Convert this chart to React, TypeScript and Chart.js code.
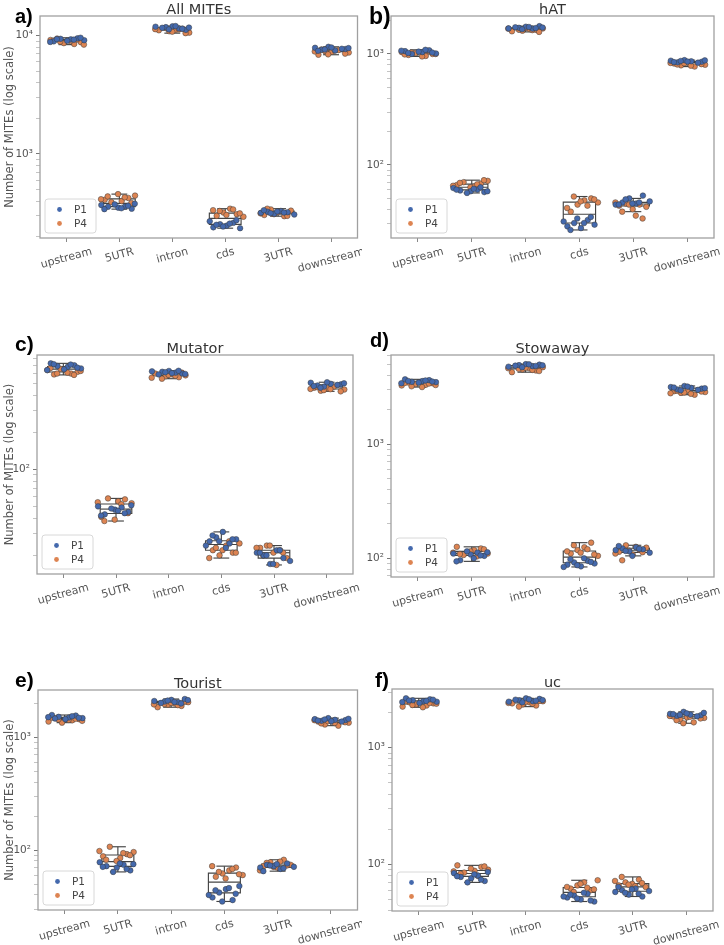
import React, { useEffect, useRef } from "react";
import { Chart, registerables } from "chart.js";

Chart.register(...registerables);

// ---------------- data ----------------
const categories = ["upstream", "5UTR", "intron", "cds", "3UTR", "downstream"];
const seriesLabels = ["P1", "P4"];
const seriesColors = ["#4469ad", "#dd8452"];
const yAxisTitle = "Number of MITEs (log scale)";

const panelTitles = ["All MITEs", "hAT", "Mutator", "Stowaway", "Tourist", "uc"];
const panelLetters = ["a)", "b)", "c)", "d)", "e)", "f)"];
const panelYMin = [195, 22, 14.1, 68.6, 29.4, 39.8];
const panelYMax = [14660, 2198, 849, 6010, 2630, 3186];

// a) All MITEs
const allP1 = [
  [9300, 9500, 9150, 8950, 9400, 9050, 9250, 9600, 8850, 9350],
  [352, 360, 345, 370, 358, 375, 348, 365, 380, 342],
  [11800, 12000, 11500, 11200, 11900, 11650, 11300, 12050, 11450, 11700],
  [240, 255, 248, 262, 236, 270, 252, 244, 258, 276],
  [318, 325, 312, 330, 322, 308, 335, 316, 327, 320],
  [7700, 7900, 7600, 8050, 7500, 7750, 7850, 7450, 7650, 7950],
];
const allP4 = [
  [8500, 8800, 9200, 9450, 8650, 9000, 9300, 8400, 9100, 8900],
  [400, 425, 445, 410, 392, 458, 430, 385, 415, 438],
  [10900, 11200, 11450, 10600, 11100, 11600, 10800, 11300, 10500, 11350],
  [300, 320, 345, 310, 295, 335, 330, 305, 340, 315],
  [305, 340, 322, 298, 332, 315, 345, 310, 328, 300],
  [7200, 6900, 7400, 7300, 7550, 7050, 7350, 7650, 6950, 7500],
];

// b) hAT
const hatP1 = [
  [1040, 1080, 1010, 1060, 1000, 1050, 1090, 1030, 1070, 1020],
  [58, 60, 57, 62, 59, 56, 61, 63, 58, 60],
  [1720, 1760, 1690, 1780, 1700, 1740, 1670, 1750, 1710, 1730],
  [28, 30, 27, 32, 29, 31, 26, 33, 30, 34],
  [44, 46, 50, 45, 53, 47, 44, 49, 45, 46],
  [850, 870, 840, 880, 860, 835, 875, 845, 865, 855],
];
const hatP4 = [
  [960, 1000, 1040, 980, 1020, 950, 1060, 1000, 990, 1030],
  [64, 68, 72, 66, 70, 63, 67, 73, 65, 69],
  [1620, 1680, 1650, 1700, 1600, 1660, 1720, 1640, 1580, 1690],
  [38, 44, 48, 50, 46, 41, 52, 47, 43, 49],
  [43, 45, 40, 44, 42, 46, 38, 44, 35, 33],
  [800, 820, 790, 840, 770, 810, 830, 805, 825, 785],
];

// c) Mutator
const mutatorP1 = [
  [680, 700, 660, 726, 690, 650, 710, 670, 640, 715],
  [47, 49, 45, 50, 43, 48, 46, 44, 51, 42],
  [620, 630, 610, 600, 625, 590, 615, 605, 632, 595],
  [26, 28, 31, 25, 27, 24, 29, 26, 23, 27],
  [21, 20, 17, 22, 19, 18, 21, 20, 17, 22],
  [490, 505, 480, 470, 495, 485, 500, 475, 460, 510],
];
const mutatorP4 = [
  [600, 620, 640, 590, 655, 610, 585, 630, 665, 600],
  [55, 57, 53, 41, 58, 39, 52, 44, 54, 38],
  [570, 590, 560, 580, 600, 545, 585, 575, 610, 555],
  [22, 20, 24, 21, 25, 19, 23, 22, 26, 21],
  [23, 24, 21, 22, 19, 23, 20, 24, 16.7, 21],
  [445, 460, 435, 455, 470, 430, 450, 465, 440, 448],
];

// d) Stowaway
const stowawayP1 = [
  [3550, 3620, 3480, 3680, 3500, 3450, 3600, 3520, 3400, 3560],
  [108, 112, 105, 110, 96, 115, 100, 106, 113, 94],
  [4900, 5000, 4800, 4950, 4750, 4850, 4700, 4980, 4820, 4880],
  [88, 92, 85, 95, 90, 84, 98, 87, 100, 93],
  [118, 122, 115, 125, 120, 112, 128, 116, 105, 121],
  [3050, 3150, 3000, 3220, 3100, 2980, 3080, 3120, 2950, 3180],
];
const stowawayP4 = [
  [3300, 3400, 3250, 3450, 3350, 3150, 3380, 3280, 3420, 3200],
  [118, 122, 110, 126, 107, 115, 104, 120, 112, 109],
  [4500, 4600, 4400, 4700, 4250, 4550, 4650, 4450, 4350, 4600],
  [110, 118, 125, 137, 105, 115, 130, 112, 120, 108],
  [114, 130, 108, 119, 124, 110, 96, 117, 126, 113],
  [2850, 2900, 2800, 2950, 2700, 2880, 2780, 2920, 2820, 2750],
];

// e) Tourist
const touristP1 = [
  [1500, 1560, 1480, 1578, 1520, 1450, 1540, 1490, 1510, 1470],
  [70, 74, 66, 78, 72, 64, 76, 68, 75, 71],
  [2080, 2150, 2050, 2188, 2100, 2020, 2120, 2060, 2000, 2140],
  [38, 42, 45, 36, 48, 40, 44, 35, 46, 41],
  [70, 74, 72, 68, 76, 71, 65, 73, 75, 69],
  [1420, 1450, 1400, 1480, 1430, 1380, 1460, 1410, 1440, 1390],
];
const touristP4 = [
  [1420, 1450, 1380, 1480, 1350, 1430, 1460, 1400, 1500, 1440],
  [85, 92, 96, 88, 107, 80, 94, 90, 98, 82],
  [1950, 2000, 1900, 2050, 1850, 1980, 2020, 1930, 2080, 1960],
  [58, 62, 66, 70, 60, 72, 64, 56, 68, 61],
  [72, 78, 70, 82, 74, 66, 77, 71, 79, 73],
  [1350, 1380, 1300, 1400, 1270, 1360, 1420, 1330, 1390, 1340],
];

// f) uc
const ucP1 = [
  [2500, 2600, 2480, 2650, 2550, 2420, 2520, 2580, 2460, 2540],
  [76, 80, 72, 84, 78, 70, 82, 74, 86, 79],
  [2550, 2650, 2500, 2620, 2480, 2580, 2450, 2600, 2530, 2560],
  [52, 54, 50, 56, 48, 53, 55, 51, 57, 49],
  [58, 60, 55, 62, 53, 59, 64, 57, 61, 56],
  [1900, 1950, 1880, 2030, 1920, 1860, 1990, 1940, 1910, 1970],
];
const ucP4 = [
  [2300, 2400, 2250, 2450, 2350, 2220, 2420, 2380, 2500, 2320],
  [88, 95, 90, 98, 85, 92, 80, 96, 87, 83],
  [2350, 2450, 2300, 2500, 2400, 2250, 2480, 2380, 2520, 2420],
  [62, 66, 70, 60, 73, 64, 58, 68, 63, 61],
  [66, 70, 68, 74, 64, 72, 78, 67, 65, 69],
  [1800, 1850, 1750, 1820, 1650, 1780, 1870, 1720, 1620, 1840],
];

const panelP1 = [allP1, hatP1, mutatorP1, stowawayP1, touristP1, ucP1];
const panelP4 = [allP4, hatP4, mutatorP4, stowawayP4, touristP4, ucP4];

// ---------------- layout ----------------
type Rect = { l: number; t: number; r: number; b: number };
const canvasRects: Rect[] = [
  { l: 0, t: 0, r: 362, b: 300 },
  { l: 362, t: 0, r: 724, b: 300 },
  { l: 0, t: 300, r: 362, b: 620 },
  { l: 362, t: 300, r: 724, b: 620 },
  { l: 0, t: 620, r: 362, b: 945 },
  { l: 362, t: 620, r: 724, b: 945 },
];
const areaRects: Rect[] = [
  { l: 40, t: 16, r: 360, b: 238 },
  { l: 391, t: 16, r: 714, b: 238 },
  { l: 37, t: 355, r: 353, b: 574 },
  { l: 391, t: 355, r: 714, b: 577 },
  { l: 38, t: 690, r: 359, b: 910 },
  { l: 392, t: 689, r: 713, b: 911 },
];
const letterPos = [
  { x: 15, y: 23, size: 20 },
  { x: 369, y: 24, size: 23 },
  { x: 15, y: 351, size: 21 },
  { x: 370, y: 347, size: 20 },
  { x: 15, y: 687, size: 21 },
  { x: 375, y: 687, size: 21 },
];

const FONT = '"DejaVu Sans", sans-serif';
const SUP: Record<string, string> = { "0": "⁰", "1": "¹", "2": "²", "3": "³", "4": "⁴", "5": "⁵", "6": "⁶", "-": "⁻" };

function logLabel(v: number): string {
  const e = Math.log10(v);
  if (Math.abs(e - Math.round(e)) > 1e-9) return "";
  return "10" + String(Math.round(e)).split("").map((ch) => SUP[ch] || ch).join("");
}

function buildLogTicks(min: number, max: number) {
  const out: { value: number; major: boolean }[] = [];
  for (let d = Math.floor(Math.log10(min)); d <= Math.ceil(Math.log10(max)); d++) {
    for (let k = 1; k <= 9; k++) {
      const v = k * Math.pow(10, d);
      if (v >= min && v <= max) out.push({ value: v, major: k === 1 });
    }
  }
  return out;
}

function quantile(sorted: number[], q: number) {
  const pos = (sorted.length - 1) * q;
  const lo = Math.floor(pos);
  const hi = Math.ceil(pos);
  return sorted[lo] + (sorted[hi] - sorted[lo]) * (pos - lo);
}

function jitter(s: number, i: number, c: number) {
  const u = ((i * 10 + s * 5 + c * 3 + 1) * 0.6180339887) % 1;
  return (u - 0.5) * 0.7;
}

function Panel({ idx }: { idx: number }) {
  const ref = useRef<HTMLCanvasElement>(null);
  const cv = canvasRects[idx];
  const ar = areaRects[idx];
  const w = cv.r - cv.l;
  const h = cv.b - cv.t;

  useEffect(() => {
    if (!ref.current) return;
    const p1 = panelP1[idx];
    const p4 = panelP4[idx];
    const yMin = panelYMin[idx];
    const yMax = panelYMax[idx];
    const series = [p1, p4];

    const datasets = series.map((vals, s) => ({
      label: seriesLabels[s],
      data: vals.flatMap((arr, c) => arr.map((v, i) => ({ x: c + jitter(s, i, c), y: v }))),
      pointRadius: 2.8,
      pointBackgroundColor: seriesColors[s],
      pointBorderColor: "#3a3a3a",
      pointBorderWidth: 0.5,
      showLine: false,
    }));

    const decor = {
      id: "decor" + idx,
      beforeDatasetsDraw(chart: any) {
        const { ctx } = chart;
        const x = chart.scales.x;
        const y = chart.scales.y;
        ctx.save();
        ctx.strokeStyle = "#444";
        ctx.lineWidth = 1.15;
        const line = (x1: number, y1: number, x2: number, y2: number) => {
          ctx.beginPath();
          ctx.moveTo(x1, y1);
          ctx.lineTo(x2, y2);
          ctx.stroke();
        };
        categories.forEach((_, c) => {
          const vals = [...p1[c], ...p4[c]].sort((a, b) => a - b);
          const q1 = quantile(vals, 0.25);
          const med = quantile(vals, 0.5);
          const q3 = quantile(vals, 0.75);
          const iqr = q3 - q1;
          const lo = vals.find((v) => v >= q1 - 1.5 * iqr) as number;
          const hi = [...vals].reverse().find((v) => v <= q3 + 1.5 * iqr) as number;
          const xl = x.getPixelForValue(c - 0.3);
          const xr = x.getPixelForValue(c + 0.3);
          const xc = x.getPixelForValue(c);
          const cl = x.getPixelForValue(c - 0.15);
          const cr = x.getPixelForValue(c + 0.15);
          const yq1 = y.getPixelForValue(q1);
          const yq3 = y.getPixelForValue(q3);
          const ym = y.getPixelForValue(med);
          const ylo = y.getPixelForValue(lo);
          const yhi = y.getPixelForValue(hi);
          ctx.beginPath();
          ctx.rect(xl, yq3, xr - xl, yq1 - yq3);
          ctx.stroke();
          line(xl, ym, xr, ym);
          line(xc, yq1, xc, ylo);
          line(xc, yq3, xc, yhi);
          line(cl, ylo, cr, ylo);
          line(cl, yhi, cr, yhi);
        });
        ctx.restore();
      },
      afterDraw(chart: any) {
        const { ctx, chartArea: a } = chart;
        const x = chart.scales.x;
        ctx.save();
        // frame
        ctx.strokeStyle = "#a0a0a0";
        ctx.lineWidth = 1.3;
        ctx.strokeRect(a.left, a.top, a.right - a.left, a.bottom - a.top);

        // rotated category labels, centred on ticks
        ctx.font = "11px " + FONT;
        ctx.fillStyle = "#555";
        ctx.textAlign = "center";
        ctx.textBaseline = "middle";
        const th = (15 * Math.PI) / 180;
        categories.forEach((lab, c) => {
          const tw = ctx.measureText(lab).width;
          const bh = tw * Math.sin(th) + 12.5 * Math.cos(th);
          const cx = x.getPixelForValue(c);
          const cy = a.bottom + 7.5 + bh / 2;
          ctx.save();
          ctx.translate(cx, cy);
          ctx.rotate(-th);
          ctx.fillText(lab, 0, 0);
          ctx.restore();
        });

        // legend (lower left inside the axes)
        const lx = a.left + 5;
        const ly = a.bottom - 5 - 34;
        ctx.fillStyle = "rgba(255,255,255,0.85)";
        ctx.strokeStyle = "#d8d8d8";
        ctx.lineWidth = 1;
        ctx.beginPath();
        (ctx as any).roundRect(lx, ly, 51, 34, 3);
        ctx.fill();
        ctx.stroke();
        ctx.font = "10.5px " + FONT;
        ctx.textAlign = "left";
        ctx.textBaseline = "middle";
        seriesLabels.forEach((lab, s) => {
          const yy = ly + 10.5 + s * 14;
          ctx.beginPath();
          ctx.arc(lx + 14.5, yy, 2.4, 0, Math.PI * 2);
          ctx.fillStyle = seriesColors[s];
          ctx.fill();
          ctx.fillStyle = "#444";
          ctx.fillText(lab, lx + 29, yy + 0.5);
        });

        // title
        ctx.font = "14.5px " + FONT;
        ctx.fillStyle = "#333";
        ctx.textAlign = "center";
        ctx.textBaseline = "alphabetic";
        ctx.fillText(panelTitles[idx], (a.left + a.right) / 2, a.top - 2);

        // panel letter
        const lp = letterPos[idx];
        ctx.font = "bold " + lp.size + 'px "Liberation Sans", Arial, sans-serif';
        ctx.fillStyle = "#000";
        ctx.textAlign = "left";
        ctx.fillText(panelLetters[idx], lp.x - cv.l, lp.y - cv.t);
        ctx.restore();
      },
    };

    const chart = new Chart(ref.current, {
      type: "scatter",
      data: { datasets } as any,
      options: {
        animation: false,
        responsive: false,
        maintainAspectRatio: false,
        devicePixelRatio: 1,
        layout: { padding: { left: 0, top: ar.t - cv.t, right: cv.r - ar.r, bottom: 0 } },
        plugins: { legend: { display: false }, tooltip: { enabled: false }, title: { display: false } },
        scales: {
          x: {
            type: "linear",
            min: -0.5,
            max: 5.5,
            bounds: "data",
            afterBuildTicks: (s: any) => {
              s.ticks = categories.map((_, i) => ({ value: i }));
            },
            afterFit: (s: any) => {
              s.height = cv.b - ar.b;
            },
            ticks: { display: false },
            grid: { drawOnChartArea: false, drawTicks: true, tickLength: 4, color: "#888", lineWidth: 1 },
            border: { display: false },
          },
          y: {
            type: "logarithmic",
            min: yMin,
            max: yMax,
            bounds: "data",
            afterBuildTicks: (s: any) => {
              s.ticks = buildLogTicks(yMin, yMax);
            },
            afterFit: (s: any) => {
              s.width = ar.l - cv.l;
            },
            ticks: {
              autoSkip: false,
              callback: (v: any) => logLabel(Number(v)),
              font: { family: FONT, size: 10.5 },
              color: "#555",
              padding: 3,
            },
            grid: {
              drawOnChartArea: false,
              drawTicks: true,
              tickLength: 4,
              color: (c: any) => (c.tick && logLabel(c.tick.value) ? "#777" : "#aaa"),
              lineWidth: (c: any) => (c.tick && logLabel(c.tick.value) ? 1 : 0.7),
            },
            border: { display: false },
            title: {
              display: idx % 2 === 0,
              text: yAxisTitle,
              font: { family: FONT, size: 11.5 },
              color: "#555",
              padding: { top: 3, bottom: 0 },
            },
          },
        },
      } as any,
      plugins: [decor],
    });
    return () => chart.destroy();
  }, [idx]);

  return (
    <canvas
      ref={ref}
      width={w}
      height={h}
      style={{ position: "absolute", left: cv.l, top: cv.t, width: w, height: h }}
    />
  );
}

export default function App() {
  return (
    <div style={{ position: "absolute", left: 0, top: 0, width: 724, height: 945, background: "#fff", overflow: "hidden" }}>
      {panelTitles.map((_, i) => (
        <Panel key={i} idx={i} />
      ))}
    </div>
  );
}
